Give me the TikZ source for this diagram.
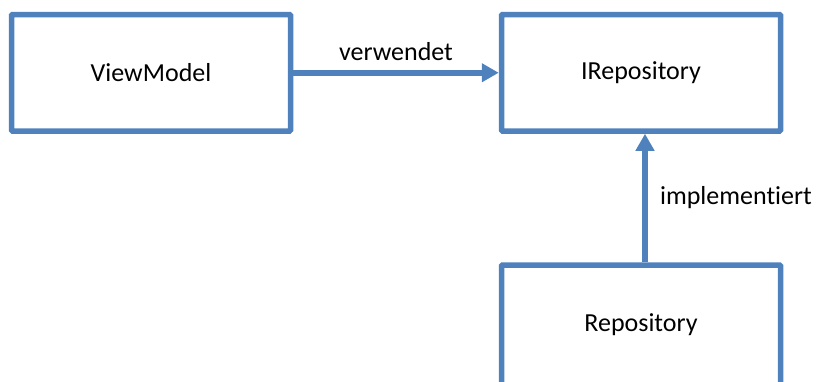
\documentclass[tikz,border=0pt]{standalone}
\usepackage{fontspec}
\setmainfont[Ligatures=NoCommon]{Carlito}
\usetikzlibrary{arrows.meta}
\definecolor{boxblue}{RGB}{79,129,189}

\begin{document}
\begin{tikzpicture}[x=1pt, y=-1pt,
	box/.style={draw=boxblue, line width=5.5pt, rounded corners=1pt, minimum width=279pt, minimum height=116.5pt, inner sep=0pt, font=\fontsize{26}{31}\selectfont},
	link/.style={draw=boxblue, line width=5.5pt, -{Triangle[length=17pt,width=18pt]}},
	lbl/.style={font=\fontsize{26}{31}\selectfont}]
	\useasboundingbox (0,0) rectangle (819,381);
	\clip (0,0) rectangle (819,381);
	
	%boxes
	\node[box] (viewmodel) at (151, 72.75){ViewModel};
	\node[box] (irepository) at (641, 72.75){IRepository};
	\node[box, minimum height=120pt] (repository) at (641, 325){Repository};
	
	%arrows
	\draw[link] (viewmodel.east) -- node[lbl, above=6pt] (uses) {verwendet} (irepository.west);
	\draw[link] ([xshift=4pt]repository.north) -- node[lbl, right=9pt] (impl) {implementiert} ([xshift=4pt]irepository.south);
\end{tikzpicture}
\end{document}
